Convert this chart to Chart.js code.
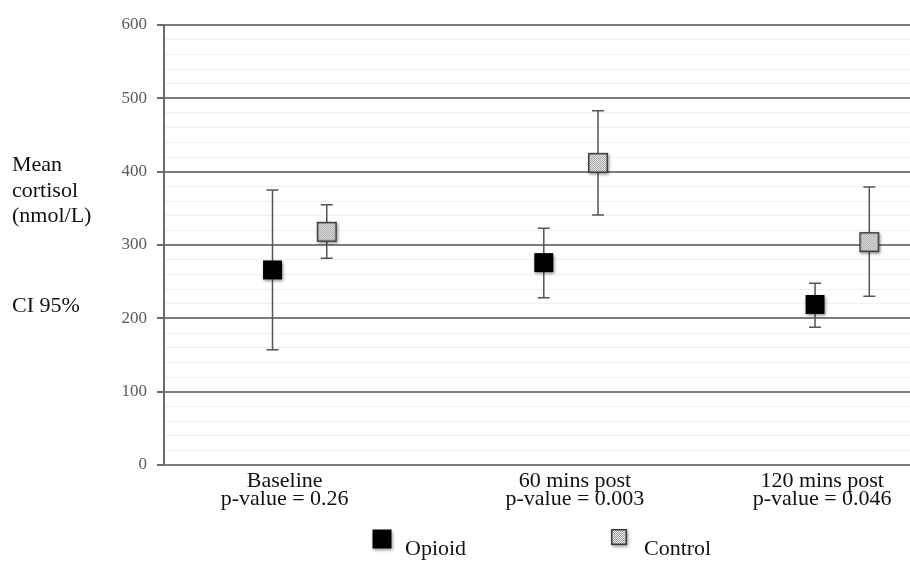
<!DOCTYPE html>
<html>
<head>
<meta charset="utf-8">
<script src="https://cdn.jsdelivr.net/npm/chart.js@4"></script>
<style>
  html, body { margin: 0; padding: 0; background: #fff; }
  #wrap { width: 910px; height: 563px; }
</style>
</head>
<body>
<div id="wrap"><canvas id="chart" width="910" height="563"></canvas></div>
<script>
const categories = ['Baseline', '60 mins post', '120 mins post'];
const pValues = ['p-value = 0.26', 'p-value = 0.003', 'p-value = 0.046'];
const seriesNames = ['Opioid', 'Control'];
const opioidMean = [266, 276, 219];
const opioidLow = [157, 228, 188];
const opioidHigh = [375, 323, 248];
const controlMean = [318, 412, 304];
const controlLow = [282, 341, 230];
const controlHigh = [355, 483, 379];
const yTicks = [0, 100, 200, 300, 400, 500, 600];

const serif = "'Liberation Serif', 'DejaVu Serif', serif";

function makeMarker(kind, size) {
  const c = document.createElement('canvas');
  const pad = 5;
  c.width = size + pad * 2;
  c.height = size + pad * 2;
  const g = c.getContext('2d');
  g.shadowColor = 'rgba(0,0,0,0.45)';
  g.shadowBlur = 3;
  g.shadowOffsetX = 1;
  g.shadowOffsetY = 1.5;
  if (kind === 'solid') {
    g.fillStyle = '#000';
    g.fillRect(pad, pad, size, size);
  } else {
    const p = document.createElement('canvas');
    p.width = 2; p.height = 2;
    const pg = p.getContext('2d');
    pg.fillStyle = '#9a9a9a';
    pg.fillRect(0, 0, 2, 2);
    pg.fillStyle = '#f2f2f2';
    pg.fillRect(0, 0, 1, 1);
    pg.fillRect(1, 1, 1, 1);
    g.fillStyle = g.createPattern(p, 'repeat');
    g.fillRect(pad, pad, size, size);
    g.shadowColor = 'transparent';
    g.strokeStyle = '#3a3a3a';
    g.lineWidth = 1.5;
    g.strokeRect(pad + 0.75, pad + 0.75, size - 1.5, size - 1.5);
  }
  return c;
}

const opioidMarker = makeMarker('solid', 19);
const controlMarker = makeMarker('pattern', 20);
const controlLegendMarker = makeMarker('pattern', 16);

const errorBars = {
  id: 'errorBars',
  beforeDatasetsDraw(chart) {
    const ctx = chart.ctx;
    const y = chart.scales.y;
    const bounds = [[opioidLow, opioidHigh], [controlLow, controlHigh]];
    ctx.save();
    ctx.strokeStyle = '#555';
    ctx.lineWidth = 1.5;
    chart.data.datasets.forEach((ds, di) => {
      const meta = chart.getDatasetMeta(di);
      meta.data.forEach((pt, i) => {
        const top = y.getPixelForValue(bounds[di][1][i]);
        const bot = y.getPixelForValue(bounds[di][0][i]);
        ctx.beginPath();
        ctx.moveTo(pt.x, top); ctx.lineTo(pt.x, bot);
        ctx.moveTo(pt.x - 6, top); ctx.lineTo(pt.x + 6, top);
        ctx.moveTo(pt.x - 6, bot); ctx.lineTo(pt.x + 6, bot);
        ctx.stroke();
      });
    });
    ctx.restore();
  }
};

const labelShift = [-15, 4, -20];

const textLayer = {
  id: 'textLayer',
  afterDraw(chart) {
    const ctx = chart.ctx;
    const x = chart.scales.x;
    ctx.save();
    ctx.fillStyle = '#111';
    ctx.font = '22px ' + serif;
    ctx.textAlign = 'left';
    ctx.textBaseline = 'alphabetic';
    ctx.fillText('Mean', 12, 171);
    ctx.fillText('cortisol', 12, 197);
    ctx.fillText('(nmol/L)', 12, 222);
    ctx.fillText('CI 95%', 12, 312);

    ctx.textAlign = 'center';
    categories.forEach((c, i) => {
      const cx = x.getPixelForValue(i) + labelShift[i];
      ctx.fillText(c, cx, 487);
      ctx.fillText(pValues[i], cx, 505);
    });

    ctx.textAlign = 'left';
    ctx.drawImage(opioidMarker, 382 - opioidMarker.width / 2, 539 - opioidMarker.height / 2);
    ctx.fillText(seriesNames[0], 405, 555);
    ctx.drawImage(controlLegendMarker, 619 - controlLegendMarker.width / 2, 537 - controlLegendMarker.height / 2);
    ctx.fillText(seriesNames[1], 644, 555);
    ctx.restore();
  }
};

const offset = 0.1;

new Chart(document.getElementById('chart'), {
  type: 'scatter',
  data: {
    datasets: [
      {
        label: seriesNames[0],
        data: opioidMean.map((v, i) => ({ x: i - offset, y: v })),
        pointStyle: opioidMarker,
        pointRadius: 10
      },
      {
        label: seriesNames[1],
        data: controlMean.map((v, i) => ({ x: i + offset, y: v })),
        pointStyle: controlMarker,
        pointRadius: 10
      }
    ]
  },
  options: {
    responsive: false,
    animation: false,
    layout: { autoPadding: false, padding: { top: 25, bottom: 98, left: 0, right: 0 } },
    plugins: { legend: { display: false }, tooltip: { enabled: false } },
    scales: {
      x: { type: 'linear', min: -0.5, max: 2.25, display: false },
      y: {
        min: 0,
        max: 600,
        afterFit(scale) { scale.width = 164; },
        border: { display: true, color: '#6a6a6a', width: 2 },
        grid: {
          color: c => (c.tick && c.tick.value % 100 === 0) ? '#7d7d7d' : '#f0f0f0',
          lineWidth: c => (c.tick && c.tick.value % 100 === 0) ? 2 : 1,
          tickColor: c => (c.tick && c.tick.value % 100 === 0) ? '#6a6a6a' : 'rgba(0,0,0,0)',
          tickLength: 7
        },
        ticks: {
          stepSize: 20,
          autoSkip: false,
          padding: 10,
          color: '#5a5a5a',
          font: { family: serif, size: 17 },
          callback: v => yTicks.includes(v) ? v : ''
        }
      }
    }
  },
  plugins: [errorBars, textLayer]
});
</script>
</body>
</html>
